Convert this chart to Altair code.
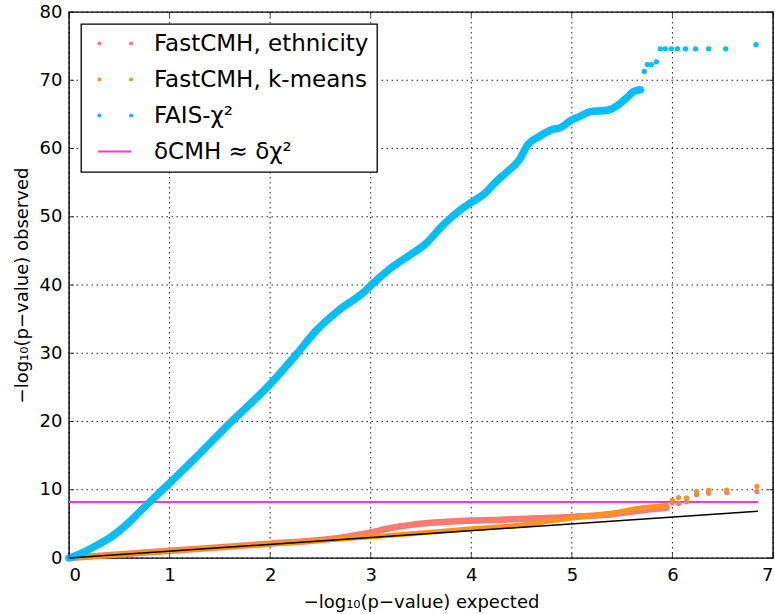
import altair as alt
import pandas as pd

# ---------------- data ----------------
x_ticks = [0, 1, 2, 3, 4, 5, 6, 7]
y_ticks = [0, 10, 20, 30, 40, 50, 60, 70, 80]

series_names = ["FastCMH, ethnicity", "FastCMH, k-means", "FAIS-χ²", "δCMH ≈ δχ²"]
series_colors = ["#F97B70", "#F8941C", "#00BFFF", "#F03AD2"]

# FAIS-chi2 (dense part, then the sparse tail)
fais_x = [0.0, 0.07, 0.26, 0.43, 0.59, 0.76, 0.93, 1.03, 1.19, 1.30, 1.61, 1.995,
          2.27, 2.45, 2.69, 2.92, 3.02, 3.22, 3.39, 3.55, 3.72, 3.89, 4.0, 4.14,
          4.25, 4.35, 4.48, 4.56, 4.68, 4.81, 4.88, 5.0, 5.08, 5.18, 5.35, 5.48,
          5.55, 5.61, 5.68]
fais_y = [0.0, 0.37, 1.73, 3.2, 5.15, 7.6, 10.0, 11.4, 13.7, 15.3, 19.9, 25.4,
          30.0, 33.2, 36.4, 38.8, 40.2, 42.7, 44.4, 46.1, 48.8, 51.0, 52.1, 53.5,
          55.2, 56.5, 58.4, 60.5, 61.8, 62.8, 63.0, 64.2, 64.7, 65.4, 65.6, 66.6,
          67.5, 68.3, 68.6]
fais_tail_x = [5.72, 5.75, 5.79, 5.84, 5.88, 5.93, 5.99, 6.05, 6.13, 6.23, 6.36, 6.53, 6.83]
fais_tail_y = [71.3, 72.3, 72.3, 72.7, 74.6, 74.6, 74.6, 74.6, 74.6, 74.6, 74.6, 74.6, 75.2]

# FastCMH, ethnicity
eth_x = [0.0, 1.0, 2.0, 2.5, 2.75, 3.0, 3.2, 3.4, 3.6, 3.8, 4.0, 4.3, 4.6, 4.9,
         5.1, 5.4, 5.7, 5.94]
eth_y = [0.0, 1.05, 2.1, 2.65, 3.1, 3.75, 4.4, 4.85, 5.15, 5.35, 5.5, 5.62, 5.78,
         5.95, 6.1, 6.4, 7.0, 7.35]
eth_tail_x = [6.0, 6.06, 6.14, 6.24, 6.36, 6.54, 6.84]
eth_tail_y = [8.1, 8.0, 8.25, 9.3, 9.5, 9.6, 9.75]

# FastCMH, k-means
km_x = [0.0, 1.0, 2.0, 3.0, 3.5, 4.0, 4.5, 4.8, 5.0, 5.2, 5.4, 5.7, 5.94]
km_y = [0.0, 1.03, 2.05, 3.1, 3.65, 4.27, 4.85, 5.45, 5.85, 6.2, 6.6, 7.35, 7.7]
km_tail_x = [6.0, 6.06, 6.14, 6.24, 6.36, 6.54, 6.84]
km_tail_y = [8.45, 8.85, 8.8, 9.75, 9.9, 9.95, 10.5]

# expected (diagonal) and significance threshold
expected_x = [0.0, 6.85]
expected_y = [0.0, 6.85]
threshold_y = 8.2
threshold_x = [0.0, 6.85]

# ---------------- chart ----------------
FONT = "DejaVu Sans"
xscale = alt.Scale(domain=[0, 7], nice=False, zero=False)
yscale = alt.Scale(domain=[0, 80], nice=False, zero=False)

axis_kw = dict(grid=False, domain=False, ticks=False)
X_AXIS = alt.Axis(orient="bottom", values=x_ticks, format="d",
                  title="−log₁₀(p−value) expected",
                  labelPadding=8, titlePadding=9, **axis_kw)
Y_AXIS = alt.Axis(orient="left", values=y_ticks, format="d",
                  title="−log₁₀(p−value) observed",
                  labelPadding=7, titlePadding=8, **axis_kw)


def df(xs, ys):
    return pd.DataFrame({"x": xs, "y": ys})


def xenc():
    return alt.X("x:Q", scale=xscale, axis=X_AXIS)


def yenc():
    return alt.Y("y:Q", scale=yscale, axis=Y_AXIS)


def dense(xs, ys, color, width):
    return alt.Chart(df(xs, ys)).mark_line(
        color=color, strokeWidth=width, strokeCap="round", strokeJoin="round",
        interpolate="monotone"
    ).encode(x=xenc(), y=yenc())


def tail(xs, ys, color):
    return alt.Chart(df(xs, ys)).mark_circle(
        color=color, size=28, opacity=1
    ).encode(x=xenc(), y=yenc())


xt = pd.DataFrame({"x": x_ticks})
yt = pd.DataFrame({"y": y_ticks})

# dotted grid
grid = [
    alt.Chart(xt).mark_rule(color="black", strokeWidth=1, strokeDash=[1.5, 3.5],
                            opacity=0.85).encode(x=xenc()),
    alt.Chart(yt).mark_rule(color="black", strokeWidth=1, strokeDash=[1.5, 3.5],
                            opacity=0.85).encode(y=yenc()),
]

thr_df = pd.DataFrame({"x": [threshold_x[0]], "x2": [threshold_x[1]], "y": [threshold_y]})
threshold = alt.Chart(thr_df).mark_rule(color=series_colors[3], strokeWidth=2).encode(
    x=xenc(), x2="x2:Q", y=yenc()
)

expected = alt.Chart(df(expected_x, expected_y)).mark_line(
    color="black", strokeWidth=1.6
).encode(x=xenc(), y=yenc())

# inward ticks on all four sides of the frame
ticks = [
    alt.Chart(xt).mark_tick(orient="vertical", size=5, thickness=1, color="black",
                            yOffset=-2.5).encode(
        x=xenc(), y=alt.Y(datum=0, scale=yscale, axis=Y_AXIS)),
    alt.Chart(xt).mark_tick(orient="vertical", size=5, thickness=1, color="black",
                            yOffset=2.5).encode(
        x=xenc(), y=alt.Y(datum=80, scale=yscale, axis=Y_AXIS)),
    alt.Chart(yt).mark_tick(orient="horizontal", size=5, thickness=1, color="black",
                            xOffset=2.5).encode(
        y=yenc(), x=alt.X(datum=0, scale=xscale, axis=X_AXIS)),
    alt.Chart(yt).mark_tick(orient="horizontal", size=5, thickness=1, color="black",
                            xOffset=-2.5).encode(
        y=yenc(), x=alt.X(datum=7, scale=xscale, axis=X_AXIS)),
]

# legend-only layer (no rows pass the filter; explicit domains give the entries)
dot2 = ("M-0.78,0A0.5,0.5,0,1,0,0.22,0A0.5,0.5,0,1,0,-0.78,0Z"
        "M7.15,0A0.5,0.5,0,1,0,8.15,0A0.5,0.5,0,1,0,7.15,0Z")
seg = "M-0.6,-0.22L7.65,-0.22L7.65,0.22L-0.6,0.22Z"
legend_layer = alt.Chart(pd.DataFrame({"series": series_names})).transform_filter(
    "false"
).mark_point(filled=True, opacity=1).encode(
    color=alt.Color("series:N", scale=alt.Scale(domain=series_names, range=series_colors),
                    legend=alt.Legend(title=None, orient="none", legendX=12, legendY=12,
                                      labelFont=FONT, labelFontSize=23, labelColor="black",
                                      labelLimit=0,
                                      symbolSize=64, symbolStrokeWidth=0,
                                      labelOffset=42, padding=8, rowPadding=12,
                                      strokeColor="black", fillColor="white",
                                      cornerRadius=0)),
    shape=alt.Shape("series:N", scale=alt.Scale(domain=series_names,
                                                range=[dot2, dot2, dot2, seg]))
)

chart = alt.layer(
    *grid,
    threshold,
    dense(eth_x, eth_y, series_colors[0], 6.5),
    tail(eth_tail_x, eth_tail_y, series_colors[0]),
    dense(km_x, km_y, series_colors[1], 5),
    tail(km_tail_x, km_tail_y, series_colors[1]),
    dense(fais_x, fais_y, series_colors[2], 7.5),
    tail(fais_tail_x, fais_tail_y, series_colors[2]),
    expected,
    *ticks,
    legend_layer,
).properties(
    width=704, height=546,
    autosize=alt.AutoSizeParams(type="none"),
    padding={"left": 69, "top": 12, "right": 2, "bottom": 56},
    background="white",
).configure_view(
    stroke="black", strokeWidth=1.4
).configure_axis(
    labelFont=FONT, labelFontSize=18, labelColor="black",
    titleFont=FONT, titleFontSize=18, titleFontWeight="normal", titleColor="black",
).configure_legend(
    strokeWidth=1.3
)

chart.save("out.html", embed_options={"renderer": "svg", "actions": False})
